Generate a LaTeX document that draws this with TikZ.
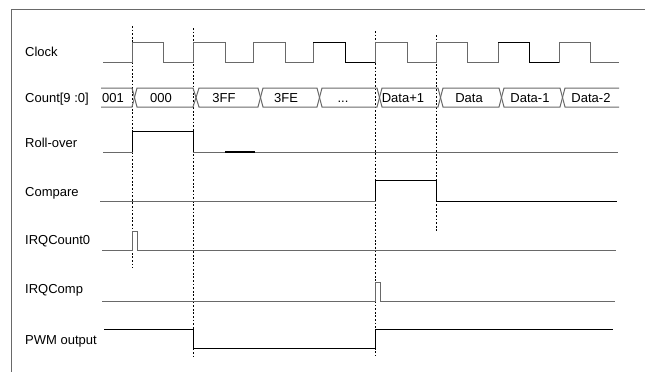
\documentclass[tikz,border=0pt]{standalone}
\usepackage{fontspec}
\setmainfont{Liberation Sans}
\begin{document}
\begin{tikzpicture}[x=1pt,y=-1pt,
  wave/.style={draw=wgray, line width=1pt, line join=miter},
  waveb/.style={draw=black, line width=1pt},
  guide/.style={draw=black, line width=0.8pt, dash pattern=on 1.8pt off 1.8pt},
  lbl/.style={anchor=west, inner sep=0pt, text height=9.3pt, text depth=0pt, font=\fontsize{13}{15}\selectfont},
  buslbl/.style={anchor=center, inner sep=0pt, text height=9.3pt, text depth=0pt, font=\fontsize{13}{15}\selectfont}]
\definecolor{wgray}{RGB}{105,105,105}
\useasboundingbox (0,0) rectangle (645,372);
\fill[white] (0,0) rectangle (645,372);
% frame
\draw[wgray, line width=1pt] (11,372) -- (11,9) -- (645,9);
% labels
\node[lbl] (lclk) at (25,52) {Clock};
\node[lbl] (lcnt) at (25,98) {Count[9 :0]};
\node[lbl] (lrol) at (25,143) {Roll-over};
\node[lbl] (lcmp) at (25,192) {Compare};
\node[lbl] (lirq0) at (25,240) {IRQCount0};
\node[lbl] (lirqc) at (25,289) {IRQComp};
\node[lbl] (lpwm) at (25,340) {PWM output};
% guides
\draw[guide] (132,26) -- (132,268);
\draw[guide] (193,28) -- (193,356);
\draw[guide] (375,31) -- (375,356);
\draw[guide] (436,35) -- (436,231);
% clock
\draw[wave] (103,62) -- (132,62) -- (132,42) -- (163,42) -- (163,62) -- (193,62) -- (193,42) -- (225,42) -- (225,62)
  -- (253,62) -- (253,42) -- (285,42) -- (285,62) -- (313,62) -- (313,42) -- (345,42) -- (345,62)
  -- (375,62) -- (375,42) -- (407,42) -- (407,62) -- (436,62) -- (436,42) -- (467,42) -- (467,62)
  -- (498,62) -- (498,42) -- (529,42) -- (529,62) -- (559,62) -- (559,42) -- (590,42) -- (590,62) -- (619,62);
\draw[waveb] (313,42) -- (345,42) -- (345,62) -- (375,62);
\draw[waveb] (498,42) -- (529,42) -- (529,62) -- (559,62);
% count bus
\draw[wave] (101,88) -- (132,88) -- (137,107) -- (193,107) -- (199,88) -- (258,88) -- (263,107) -- (317,107) -- (322,88)
  -- (377,88) -- (382,107) -- (438,107) -- (443,88) -- (499,88) -- (504,107) -- (560,107) -- (565,88) -- (619,88);
\draw[wave] (101,107) -- (132,107) -- (137,88) -- (193,88) -- (199,107) -- (258,107) -- (263,88) -- (317,88) -- (322,107)
  -- (377,107) -- (382,88) -- (438,88) -- (443,107) -- (499,107) -- (504,88) -- (560,88) -- (565,107) -- (619,107);
\node[buslbl] (b0) at (113,98) {001};
\node[buslbl] (b1) at (161,98) {000};
\node[buslbl] (b2) at (224,98) {3FF};
\node[buslbl] (b3) at (286,98) {3FE};
\node[buslbl] (b4) at (343,98) {...};
\node[buslbl] (b5) at (403,98) {Data+1};
\node[buslbl] (b6) at (469,98) {Data};
\node[buslbl] (b7) at (530,98) {Data-1};
\node[buslbl] (b8) at (591,98) {Data-2};
% roll-over
\draw[wave] (103,152) -- (132,152) -- (132,131) -- (193,131) -- (193,152) -- (618,152);
\draw[waveb] (132,152) -- (132,131) -- (193,131) -- (193,152);
\draw[draw=black, line width=1.5pt] (225,152) -- (255,152);
% compare
\draw[wave] (100,201) -- (375,201) -- (375,180) -- (436,180) -- (436,201) -- (617,201);
\draw[waveb] (375,201) -- (375,180) -- (436,180) -- (436,201) -- (617,201);
% IRQCount0
\draw[wave] (102,250) -- (132,250) -- (132,231) -- (137,231) -- (137,250) -- (616,250);
% IRQComp
\draw[wave] (102,301) -- (375,301) -- (375,282) -- (380,282) -- (380,301) -- (615,301);
% PWM
\draw[waveb] (104,329) -- (193,329) -- (193,348) -- (375,348) -- (375,329) -- (613,329);
\end{tikzpicture}
\end{document}
